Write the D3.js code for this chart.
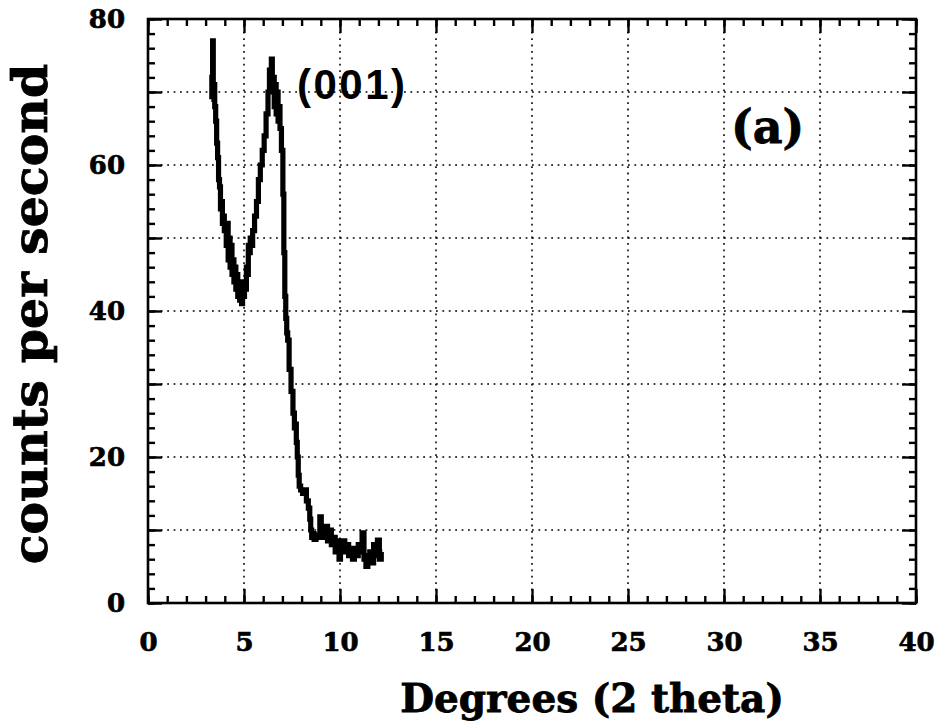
<!DOCTYPE html>
<html>
<head>
<meta charset="utf-8">
<script src="https://cdn.jsdelivr.net/npm/d3@7"></script>
<style>
  body { margin: 0; background: #fff; }
  svg { display: block; }
</style>
</head>
<body>
<div id="chart"></div>
<script>
// diffraction scan
const twoTheta = [3.30, 3.35, 3.38, 3.42, 3.45, 3.50, 3.55, 3.60, 3.65, 3.70, 3.75, 3.80, 3.85, 3.90, 3.95,
  4.00, 4.05, 4.10, 4.15, 4.20, 4.25, 4.30, 4.35, 4.40, 4.45, 4.50, 4.55, 4.60, 4.65, 4.70, 4.75,
  4.80, 4.85, 4.90, 4.95, 5.00, 5.05, 5.10, 5.15, 5.20, 5.25, 5.30, 5.35, 5.40, 5.50, 5.60, 5.70,
  5.80, 5.90, 6.00, 6.10, 6.20, 6.30, 6.35, 6.40, 6.45, 6.50, 6.55, 6.60, 6.65, 6.70, 6.75, 6.80,
  6.85, 6.90, 7.00, 7.05, 7.10, 7.15, 7.20, 7.25, 7.30, 7.40, 7.50, 7.60, 7.65, 7.70, 7.75, 7.80,
  7.85, 7.90, 8.00, 8.10, 8.20, 8.30, 8.40, 8.45, 8.50, 8.55, 8.60, 8.70, 8.80, 8.90, 9.00, 9.05,
  9.10, 9.20, 9.30, 9.40, 9.50, 9.60, 9.70, 9.80, 9.90, 10.00, 10.05, 10.10, 10.20, 10.30, 10.40,
  10.50, 10.60, 10.70, 10.80, 10.90, 11.00, 11.10, 11.20, 11.30, 11.40, 11.50, 11.60, 11.70, 11.80,
  11.90, 12.00, 12.10, 12.20];
const counts = [69, 72, 77, 70, 71, 68, 66, 63, 61, 58, 57, 54, 55, 52, 53,
  51, 52, 49, 52, 47, 50, 46, 49, 45, 47, 44, 46, 43, 45, 42, 44,
  41.5, 43, 41, 43, 42, 44, 43, 46, 45, 49, 48, 50, 49, 51, 53, 55,
  58, 60, 62, 64, 67, 70, 73, 72, 74.5, 70, 72, 68, 71, 67, 70, 66,
  68, 65, 62, 56, 48, 42, 39, 37, 36, 32, 29, 26, 24, 24.5, 22, 20,
  17.5, 16, 15.5, 15, 15.5, 14, 13, 11.5, 10, 9, 9.5, 8.7, 9.3, 9, 11.8, 9,
  10, 9, 10.5, 8.5, 10, 8, 9, 7, 8.5, 6, 8.5, 7.5, 8.5, 7, 8,
  6.5, 7.5, 6, 7.5, 6.5, 8, 7, 9.6, 6, 5, 6.5, 7, 5.5, 8,
  6.5, 8.6, 6, 7];

const xMajor = [0, 5, 10, 15, 20, 25, 30, 35, 40];
const yMajor = [0, 10, 20, 30, 40, 50, 60, 70, 80];
const yLabelled = [0, 20, 40, 60, 80];

const width = 945, height = 723,
      margin = ({ top: 19, right: 29, bottom: 120, left: 148 });

const data = twoTheta.map((t, i) => ({ t: t, c: counts[i] }));

let svg = d3.select("#chart")
    .append("svg")
    .attr("width", width)
    .attr("height", height);

let x = d3.scaleLinear()
    .domain([0, 40])
    .range([margin.left, width - margin.right]);

let y = d3.scaleLinear()
    .domain([0, 80])
    .range([height - margin.bottom, margin.top]);

const tickFont = "'DejaVu Serif', serif";

// dotted grid
let grid = svg.append("g")
    .attr("stroke", "#000")
    .attr("stroke-width", 1.6)
    .attr("stroke-dasharray", "1.8,4.6");

grid.selectAll(".vg")
    .data(xMajor.slice(1, -1))
    .join("line")
    .attr("x1", d => x(d)).attr("x2", d => x(d))
    .attr("y1", y(80)).attr("y2", y(0));

grid.selectAll(".hg")
    .data(yMajor.slice(1, -1))
    .join("line")
    .attr("x1", x(0)).attr("x2", x(40))
    .attr("y1", d => y(d)).attr("y2", d => y(d));

// ticks on all four sides, pointing inward
function styleAxis(g) {
    g.select(".domain").remove();
    g.selectAll(".tick line").attr("stroke", "#000").attr("stroke-width", 2.4);
    g.selectAll("text")
        .attr("fill", "#000")
        .attr("stroke", "#000")
        .attr("stroke-width", 0.7)
        .style("font-family", tickFont)
        .style("font-weight", "bold")
        .style("font-size", "26px");
}

svg.append("g")
    .attr("transform", `translate(0,${y(0)})`)
    .call(d3.axisBottom(x).tickValues(d3.range(0, 41, 1)).tickSize(-7).tickFormat(""))
    .call(styleAxis);
svg.append("g")
    .attr("transform", `translate(0,${y(0)})`)
    .call(d3.axisBottom(x).tickValues(xMajor).tickSize(-14).tickPadding(30))
    .call(styleAxis);

svg.append("g")
    .attr("transform", `translate(0,${y(80)})`)
    .call(d3.axisTop(x).tickValues(d3.range(0, 41, 1)).tickSize(-7).tickFormat(""))
    .call(styleAxis);
svg.append("g")
    .attr("transform", `translate(0,${y(80)})`)
    .call(d3.axisTop(x).tickValues(xMajor).tickSize(-14).tickFormat(""))
    .call(styleAxis);

svg.append("g")
    .attr("transform", `translate(${x(0)},0)`)
    .call(d3.axisLeft(y).tickValues(d3.range(0, 81, 2)).tickSize(-7).tickFormat(""))
    .call(styleAxis);
svg.append("g")
    .attr("transform", `translate(${x(0)},0)`)
    .call(d3.axisLeft(y).tickValues(yMajor).tickSize(-14).tickPadding(23)
        .tickFormat(d => yLabelled.includes(d) ? d : ""))
    .call(styleAxis);

svg.append("g")
    .attr("transform", `translate(${x(40)},0)`)
    .call(d3.axisRight(y).tickValues(d3.range(0, 81, 2)).tickSize(-7).tickFormat(""))
    .call(styleAxis);
svg.append("g")
    .attr("transform", `translate(${x(40)},0)`)
    .call(d3.axisRight(y).tickValues(yMajor).tickSize(-14).tickFormat(""))
    .call(styleAxis);

// frame
svg.append("rect")
    .attr("x", x(0))
    .attr("y", y(80))
    .attr("width", x(40) - x(0))
    .attr("height", y(0) - y(80))
    .attr("fill", "none")
    .attr("stroke", "#000")
    .attr("stroke-width", 2.6);

// the scan
let line = d3.line()
    .x(d => x(d.t))
    .y(d => y(d.c))
    .curve(d3.curveStep);

svg.append("path")
    .datum(data)
    .attr("fill", "none")
    .attr("stroke", "#000")
    .attr("stroke-width", 5.2)
    .attr("stroke-linejoin", "miter")
    .attr("d", line);

// annotations
svg.append("text")
    .attr("x", 297)
    .attr("y", 99)
    .style("font-family", "'Liberation Sans', Arial, sans-serif")
    .style("font-weight", "bold")
    .style("font-size", "42px")
    .style("letter-spacing", "2.5px")
    .text("(001)");

svg.append("text")
    .attr("x", 731)
    .attr("y", 143)
    .attr("stroke", "#000")
    .attr("stroke-width", 0.8)
    .style("font-family", tickFont)
    .style("font-weight", "bold")
    .style("font-size", "46px")
    .text("(a)");

// axis titles
svg.append("text")
    .attr("text-anchor", "middle")
    .attr("x", 592)
    .attr("y", 712)
    .attr("stroke", "#000")
    .attr("stroke-width", 0.8)
    .style("font-family", tickFont)
    .style("font-weight", "bold")
    .style("font-size", "39px")
    .text("Degrees (2 theta)");

svg.append("text")
    .attr("text-anchor", "middle")
    .attr("transform", "translate(47,314) rotate(-90)")
    .attr("stroke", "#000")
    .attr("stroke-width", 0.8)
    .style("font-family", tickFont)
    .style("font-weight", "bold")
    .style("font-size", "49px")
    .text("counts per second");
</script>
</body>
</html>
